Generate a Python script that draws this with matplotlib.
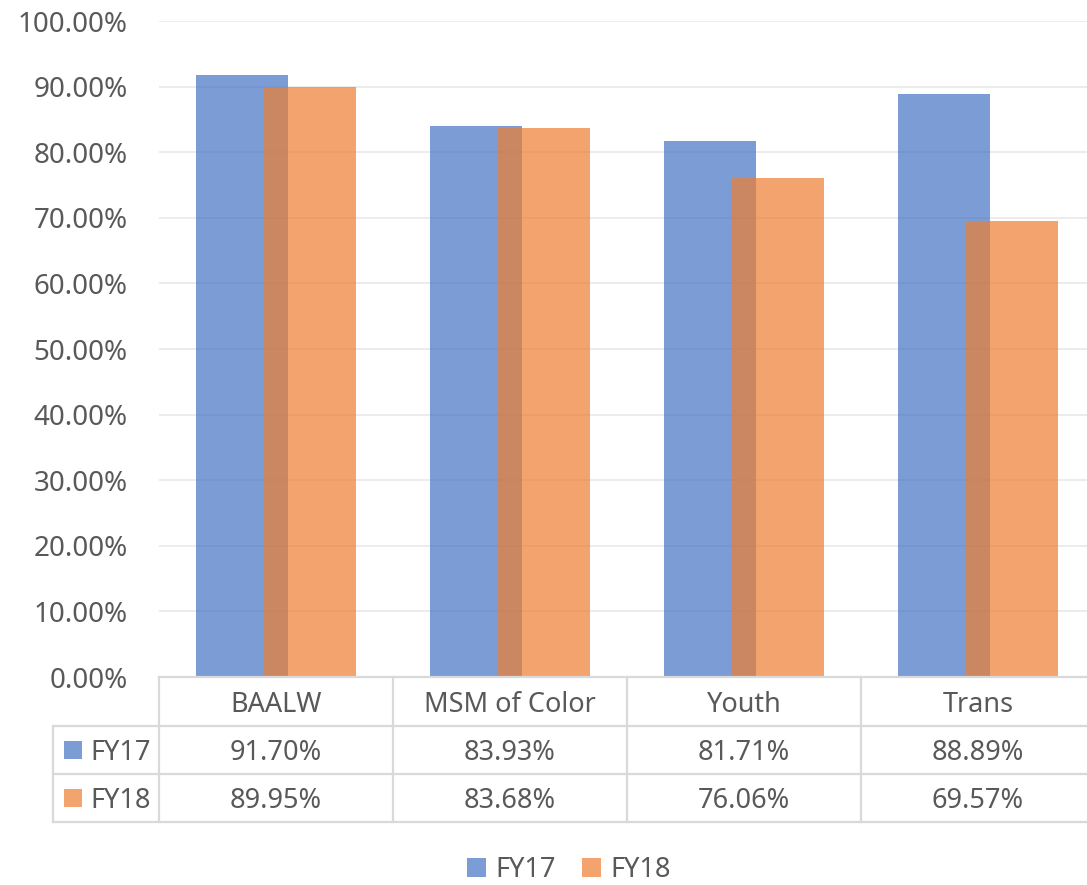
import numpy as np
import matplotlib.pyplot as plt
from matplotlib.patches import Rectangle

plt.rcParams['font.family'] = ['Noto Sans', 'DejaVu Sans']

categories = ['BAALW', 'MSM of Color', 'Youth', 'Trans']
series = ['FY17', 'FY18']
fy17 = [91.70, 83.93, 81.71, 88.89]
fy18 = [89.95, 83.68, 76.06, 69.57]

blue = '#4472C4'
orange = '#ED7D31'
text_col = '#595959'
line_col = '#D9D9D9'

W, H = 1087, 885
fig = plt.figure(figsize=(W / 100, H / 100), dpi=100)

def box(x0, y0, x1, y1):
    # pixel box (top-left origin) -> figure fraction rect
    return [x0 / W, 1 - y1 / H, (x1 - x0) / W, (y1 - y0) / H]

# the plot area runs a little past the right edge of the canvas
plot_left, plot_right = 159, 1095
plot_top, plot_bottom = 21, 677
ax = fig.add_axes(box(plot_left, plot_top, plot_right, plot_bottom))

x = np.arange(len(categories))
bw = 0.395
off = 0.146
ax.bar(x - off, np.array(fy17) / 100, bw, color=blue, alpha=0.7, zorder=2)
ax.bar(x + off, np.array(fy18) / 100, bw, color=orange, alpha=0.7, zorder=3)

ax.set_xlim(-0.5, len(categories) - 0.5)
ax.set_ylim(0, 1)
ax.set_yticks(np.arange(0, 1.01, 0.1))
ax.set_yticklabels(['%.2f%%' % (v * 100) for v in np.arange(0, 1.01, 0.1)],
                   fontsize=20, color=text_col)
ax.tick_params(axis='y', length=0, pad=22.5)
ax.set_xticks([])
ax.grid(axis='y', color='#EBEBEB', linewidth=1.3, zorder=0)
for s in ax.spines.values():
    s.set_visible(False)

# data table under the plot
px_per_cat = (plot_right - plot_left) / len(categories)
tab_left = 53
tab_rows = [677, 726, 774, 822]
tx = fig.add_axes(box(tab_left, tab_rows[0], plot_right, tab_rows[-1]))
tx.set_xlim(-0.5 - (plot_left - tab_left) / px_per_cat, len(categories) - 0.5)
tx.set_ylim(tab_rows[-1], tab_rows[0])
tx.axis('off')
x_lab = tx.get_xlim()[0]

lw = 1.6
tx.plot([-0.5, len(categories) - 0.5], [tab_rows[0]] * 2, color=line_col, lw=lw, clip_on=False)
for yy in tab_rows[1:]:
    tx.plot([x_lab, len(categories) - 0.5], [yy, yy], color=line_col, lw=lw, clip_on=False)
tx.plot([-0.5, -0.5], [tab_rows[0], tab_rows[-1]], color=line_col, lw=lw, clip_on=False)
tx.plot([x_lab, x_lab], [tab_rows[1], tab_rows[-1]], color=line_col, lw=lw, clip_on=False)
for i in range(1, len(categories)):
    tx.plot([i - 0.5, i - 0.5], [tab_rows[0], tab_rows[-1]], color=line_col, lw=lw, clip_on=False)

fs = 19.5
dy = 3  # text sits slightly below the cell middle
for i, c in enumerate(categories):
    tx.text(i, (tab_rows[0] + tab_rows[1]) / 2 + dy, c, ha='center', va='center',
            fontsize=fs, color=text_col)
rows = [fy17, fy18]
cols = [blue, orange]
for r, (name, vals, col) in enumerate(zip(series, rows, cols)):
    yc = (tab_rows[r + 1] + tab_rows[r + 2]) / 2
    for i, v in enumerate(vals):
        tx.text(i, yc + dy, '%.2f%%' % v, ha='center', va='center', fontsize=fs, color=text_col)
    kx = x_lab + 11 / px_per_cat
    tx.add_patch(Rectangle((kx, yc - 9), 18 / px_per_cat, 18, color=col, alpha=0.7,
                           lw=0, clip_on=False))
    tx.text(x_lab + 37 / px_per_cat, yc + dy, name, ha='left', va='center', fontsize=fs,
            color=text_col)

handles = [Rectangle((0, 0), 1, 1, color=c, alpha=0.7, lw=0) for c in cols]
fig.legend(handles, series, loc='center', bbox_to_anchor=(569 / W, 1 - 870 / H), ncol=2,
           frameon=False, fontsize=19.5, labelcolor=text_col, handlelength=0.7,
           handleheight=0.7, handletextpad=0.35, columnspacing=0.95)

fig.savefig('out.png', dpi=100)
